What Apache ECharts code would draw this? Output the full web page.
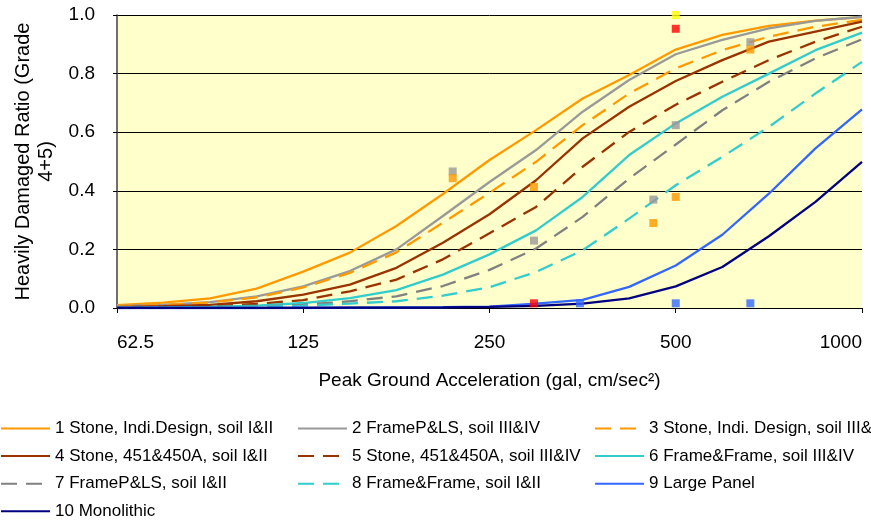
<!DOCTYPE html>
<html><head><meta charset="utf-8">
<script src="https://cdn.jsdelivr.net/npm/echarts@6/dist/echarts.min.js"></script>
<style>html,body{margin:0;padding:0;background:#fff}#c{width:871px;height:520px}</style>
</head><body><div id="c"></div>
<script>
// Peak ground acceleration (gal) at each curve point
const pga = [62.5, 74.3, 88.4, 105.1, 125, 148.7, 176.8, 210.2, 250, 297.3, 353.6, 420.4, 500, 594.6, 707.1, 840.9, 1000];
const xTickValues = [62.5, 125, 250, 500, 1000];
const yTickValues = [0, 0.2, 0.4, 0.6, 0.8, 1.0];

const names = [
  '1 Stone, Indi.Design, soil I&II',
  '2 FrameP&LS, soil III&IV',
  '3 Stone, Indi. Design, soil III&IV',
  '4 Stone, 451&450A, soil I&II',
  '5 Stone, 451&450A, soil III&IV',
  '6 Frame&Frame, soil III&IV',
  '7 FrameP&LS, soil I&II',
  '8 Frame&Frame, soil I&II',
  '9 Large Panel',
  '10 Monolithic'
];

const s1  = [0.010, 0.018, 0.033, 0.066, 0.124, 0.189, 0.280, 0.389, 0.505, 0.607, 0.715, 0.795, 0.882, 0.932, 0.963, 0.981, 0.993];
const s2  = [0.006, 0.011, 0.020, 0.040, 0.074, 0.126, 0.200, 0.314, 0.430, 0.539, 0.670, 0.778, 0.866, 0.915, 0.954, 0.980, 0.994];
const s3  = [0.005, 0.010, 0.019, 0.036, 0.070, 0.120, 0.190, 0.291, 0.393, 0.499, 0.624, 0.732, 0.818, 0.880, 0.926, 0.960, 0.983];
const s4  = [0.003, 0.006, 0.011, 0.023, 0.046, 0.080, 0.137, 0.223, 0.320, 0.436, 0.579, 0.687, 0.775, 0.846, 0.909, 0.943, 0.977];
const s5  = [0.002, 0.003, 0.006, 0.014, 0.027, 0.057, 0.097, 0.166, 0.255, 0.345, 0.482, 0.601, 0.694, 0.772, 0.846, 0.909, 0.960];
const s6  = [0.001, 0.002, 0.004, 0.008, 0.017, 0.034, 0.061, 0.114, 0.183, 0.265, 0.379, 0.522, 0.630, 0.721, 0.800, 0.880, 0.940];
const s7  = [0.001, 0.002, 0.003, 0.005, 0.011, 0.023, 0.040, 0.075, 0.130, 0.203, 0.311, 0.442, 0.558, 0.675, 0.772, 0.852, 0.917];
const s8  = [0.000, 0.001, 0.002, 0.004, 0.008, 0.015, 0.023, 0.042, 0.071, 0.123, 0.197, 0.305, 0.419, 0.516, 0.618, 0.732, 0.840];
const s9  = [0.000, 0.000, 0.000, 0.000, 0.001, 0.001, 0.002, 0.003, 0.005, 0.015, 0.028, 0.072, 0.145, 0.250, 0.390, 0.545, 0.678];
const s10 = [0.000, 0.000, 0.000, 0.000, 0.000, 0.001, 0.001, 0.002, 0.004, 0.007, 0.015, 0.033, 0.074, 0.140, 0.245, 0.362, 0.499];

// Observed damage ratios (markers)
const greyObsPga   = [218, 295, 460, 500, 660];
const greyObsVal   = [0.466, 0.230, 0.370, 0.624, 0.907];
const orangeObsPga = [218, 295, 460, 500, 660];
const orangeObsVal = [0.443, 0.413, 0.290, 0.379, 0.882];
const redObsPga    = [295, 500];
const redObsVal    = [0.016, 0.953];
const blueObsPga   = [350, 500, 660];
const blueObsVal   = [0.016, 0.016, 0.016];
const yellowObsPga = [500];
const yellowObsVal = [1.0];

const curves = [s1, s2, s3, s4, s5, s6, s7, s8, s9, s10];
const colors = ['#FF9900', '#999999', '#FF9900', '#993300', '#993300', '#33CCCC', '#808080', '#33CCCC', '#3366FF', '#000080'];
const dashed = [false, false, true, false, true, false, true, true, false, false];

const pair = (xs, ys) => xs.map((x, i) => [x, ys[i]]);

const series = curves.map((c, i) => ({
  name: names[i],
  type: 'line',
  data: pair(pga, c),
  symbol: 'none',
  smooth: false,
  lineStyle: { color: colors[i], width: 2.3, type: dashed[i] ? [16, 9] : 'solid' },
  itemStyle: { color: colors[i] },
  z: 2 + i * 0.01,
  animation: false
}));

const obs = [
  [greyObsPga, greyObsVal, '#999999'],
  [orangeObsPga, orangeObsVal, '#FF9900'],
  [redObsPga, redObsVal, '#FF0000'],
  [blueObsPga, blueObsVal, '#3366FF'],
  [yellowObsPga, yellowObsVal, '#FFFF00']
];
obs.forEach(([xs, ys, col]) => {
  series.push({
    type: 'scatter',
    data: pair(xs, ys),
    symbol: 'rect',
    symbolSize: 8,
    itemStyle: { color: col },
    z: 5,
    animation: false
  });
});

const legendBase = {
  orient: 'vertical',
  top: 418.5,
  height: 103,
  padding: 0,
  itemWidth: 49,
  itemHeight: 14,
  itemGap: 7.6,
  selectedMode: false,
  itemStyle: { opacity: 0 },
  textStyle: { fontSize: 17, lineHeight: 20, color: '#000', fontFamily: 'Liberation Sans, Arial, sans-serif' }
};

const chart = echarts.init(document.getElementById('c'), null, { renderer: 'canvas' });
chart.setOption({
  animation: false,
  backgroundColor: '#ffffff',
  textStyle: { fontFamily: 'Liberation Sans, Arial, sans-serif' },
  grid: { left: 117, right: 9, top: 15, bottom: 212, show: true, backgroundColor: '#FFFFCC', borderWidth: 0 },
  legend: [
    Object.assign({ left: 0, data: [names[0], names[3], names[6], names[9]] }, legendBase),
    Object.assign({ left: 297, data: [names[1], names[4], names[7]] }, legendBase),
    Object.assign({ left: 594, data: [names[2], names[5], names[8]] }, legendBase)
  ],
  xAxis: {
    type: 'log',
    logBase: 2,
    min: 62.5,
    max: 1000,
    name: 'Peak Ground Acceleration (gal, cm/sec²)',
    nameLocation: 'middle',
    nameGap: 63,
    nameTextStyle: { fontSize: 19, color: '#000' },
    axisLine: { show: true, lineStyle: { color: '#000', width: 1 } },
    axisTick: { show: true, customValues: xTickValues, length: 5, lineStyle: { color: '#000' } },
    minorTick: { show: false },
    axisLabel: {
      customValues: xTickValues,
      fontSize: 19,
      color: '#000',
      margin: 25,
      alignMinLabel: 'left',
      alignMaxLabel: 'right',
      formatter: v => String(Math.round(v * 10) / 10)
    },
    splitLine: { show: false }
  },
  yAxis: {
    type: 'value',
    min: yTickValues[0],
    max: yTickValues[yTickValues.length - 1],
    interval: 0.2,
    name: 'Heavily Damaged Ratio (Grade\n4+5)',
    nameLocation: 'middle',
    nameGap: 51,
    nameTextStyle: { fontSize: 20, lineHeight: 23, color: '#000', align: 'center' },
    axisLine: { show: true, lineStyle: { color: '#404040', width: 1.5 } },
    axisTick: { show: true, length: 4, lineStyle: { color: '#000' } },
    axisLabel: { fontSize: 19, color: '#000', margin: 22, formatter: v => v.toFixed(1) },
    splitLine: { show: true, lineStyle: { color: '#000', width: 1 } }
  },
  series: series
});
</script>
</body></html>
